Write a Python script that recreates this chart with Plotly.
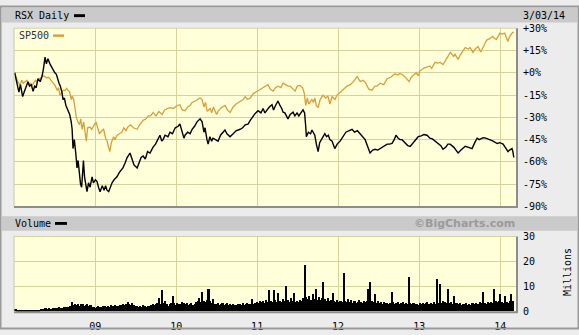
import plotly.graph_objects as go
import pandas as pd

# ---------------- data ----------------
rsx_dates = [
 "2008-01-04","2008-01-10","2008-01-17","2008-01-23","2008-01-30","2008-02-05","2008-02-09","2008-02-16","2008-02-25","2008-03-04",
 "2008-03-11","2008-03-19","2008-03-27","2008-04-03","2008-04-10","2008-04-18","2008-04-28","2008-05-06","2008-05-12","2008-05-16",
 "2008-05-20","2008-05-26","2008-06-02","2008-06-11","2008-06-18","2008-06-25","2008-07-03","2008-07-10","2008-07-15","2008-07-22",
 "2008-07-28","2008-08-04","2008-08-09","2008-08-15","2008-08-22","2008-08-31","2008-09-08","2008-09-15","2008-09-19","2008-09-23",
 "2008-09-29","2008-10-06","2008-10-11","2008-10-16","2008-10-22","2008-10-27","2008-11-01","2008-11-05","2008-11-09","2008-11-14",
 "2008-11-20","2008-11-25","2008-12-02","2008-12-09","2008-12-18","2008-12-24","2009-01-02","2009-01-09","2009-01-16","2009-01-23",
 "2009-02-02","2009-02-10","2009-02-17","2009-02-23","2009-03-03","2009-03-10","2009-03-18","2009-03-27","2009-04-09","2009-04-20",
 "2009-05-06","2009-05-15","2009-05-25","2009-06-07","2009-06-15","2009-06-25","2009-07-09","2009-07-18","2009-07-27","2009-08-05",
 "2009-08-15","2009-08-25","2009-09-05","2009-09-19","2009-09-30","2009-10-10","2009-10-20","2009-10-28","2009-11-03","2009-11-12",
 "2009-11-25","2009-12-04","2009-12-15","2009-12-28","2010-01-10","2010-01-18","2010-01-28","2010-02-05","2010-02-10","2010-02-22",
 "2010-03-05","2010-03-14","2010-03-25","2010-04-05","2010-04-19","2010-04-28","2010-05-06","2010-05-11","2010-05-20","2010-05-25",
 "2010-06-02","2010-06-10","2010-06-16","2010-06-28","2010-07-09","2010-07-20","2010-07-30","2010-08-09","2010-08-18","2010-09-01",
 "2010-09-15","2010-09-28","2010-10-16","2010-10-28","2010-11-08","2010-11-21","2010-12-01","2010-12-09","2010-12-20","2011-01-05",
 "2011-01-18","2011-01-28","2011-02-05","2011-02-15","2011-02-25","2011-03-09","2011-03-16","2011-03-25","2011-04-05","2011-04-14",
 "2011-04-22","2011-04-28","2011-05-06","2011-05-13","2011-05-20","2011-05-30","2011-06-12","2011-06-20","2011-06-30","2011-07-08",
 "2011-07-14","2011-07-22","2011-07-27","2011-08-03","2011-08-08","2011-08-11","2011-08-20","2011-08-30","2011-09-05","2011-09-12",
 "2011-09-18","2011-09-25","2011-10-03","2011-10-10","2011-10-20","2011-11-02","2011-11-10","2011-11-18","2011-11-25","2011-12-05",
 "2011-12-17","2011-12-28","2012-01-10","2012-01-23","2012-02-05","2012-02-20","2012-03-04","2012-03-15","2012-03-28","2012-04-09",
 "2012-04-20","2012-05-02","2012-05-14","2012-05-24","2012-06-05","2012-06-16","2012-06-28","2012-07-08","2012-07-22","2012-08-09",
 "2012-08-20","2012-08-31","2012-09-10","2012-09-18","2012-09-28","2012-10-06","2012-10-15","2012-10-28","2012-11-10","2012-11-21",
 "2012-12-05","2012-12-15","2012-12-27","2013-01-10","2013-01-22","2013-02-05","2013-02-18","2013-03-01","2013-03-13","2013-03-25",
 "2013-04-08","2013-04-18","2013-05-01","2013-05-10","2013-05-20","2013-06-05","2013-06-15","2013-06-25","2013-07-08","2013-07-27",
 "2013-08-08","2013-08-27","2013-09-08","2013-09-19","2013-09-28","2013-10-16","2013-10-28","2013-11-16","2013-11-30","2013-12-18",
 "2013-12-30","2014-01-14","2014-01-24","2014-02-05","2014-02-12","2014-02-23","2014-02-27","2014-03-03",
]
rsx_pct = [
 0,-4,-10,-13,-8,-12,-16,-13,-9,-6,
 -9,-8,-12.5,-9,-10,-4,-6,-2.5,2,7,
 10.5,6,9.5,6,4,2.5,0,-1,-4,-7,
 -9,-13,-18,-17,-22,-25,-28,-33,-38,-51,
 -45,-55,-64,-59,-68,-75,-77,-62,-59,-70,
 -76,-80,-74,-77,-70,-74,-72,-73,-77,-80,
 -76,-79,-76,-79,-80,-77,-74,-72,-70,-67,
 -64,-61,-57,-54,-57,-62,-64,-61,-57,-56,
 -58,-53,-54,-50,-48,-45,-42,-46,-45,-42,
 -43,-40,-41,-37,-36,-34.5,-40,-44,-42,-40,
 -41,-38,-36,-33,-31,-33,-40,-37,-45,-48,
 -43,-46,-44,-45,-46,-42,-40,-38.5,-41,-43,
 -41,-39,-38,-37,-35,-34.5,-32,-30,-28,-25.5,
 -27,-24,-27,-25,-23,-21.5,-25,-22,-19,-22,
 -24,-26.5,-27,-29,-31,-28,-26.5,-29,-27,-29,
 -28,-26,-25,-27,-36,-43,-40,-41,-38.5,-40,
 -42,-48,-53,-47,-44,-41,-43,-42,-45,-46,
 -51,-48,-46,-43,-40,-39,-38,-40,-39,-41,
 -43,-45,-50,-54,-52,-51.5,-52,-51,-49.5,-48,
 -48,-47.5,-45,-42,-44,-45,-45,-47,-49,-49.5,
 -47,-45,-43,-42.5,-41.5,-42,-44,-44.5,-46,-47,
 -49,-51.5,-50,-48,-48,-50,-52,-54,-52,-49.5,
 -50,-51,-47,-44,-45,-43.7,-44,-45,-46,-47.6,
 -47,-48,-50,-53,-52,-51,-53,-57,
]

spx_dates = [
 "2008-01-04","2008-01-10","2008-01-18","2008-01-28","2008-02-05","2008-02-12","2008-02-19","2008-02-28","2008-03-07","2008-03-13",
 "2008-03-20","2008-03-28","2008-04-07","2008-04-14","2008-04-24","2008-05-05","2008-05-12","2008-05-20","2008-05-28","2008-06-04",
 "2008-06-11","2008-06-20","2008-07-04","2008-07-14","2008-07-20","2008-07-26","2008-08-02","2008-08-09","2008-08-18","2008-08-25",
 "2008-08-31","2008-09-08","2008-09-15","2008-09-19","2008-09-26","2008-10-02","2008-10-08","2008-10-15","2008-10-22","2008-10-28",
 "2008-11-03","2008-11-10","2008-11-18","2008-11-22","2008-11-28","2008-12-08","2008-12-16","2008-12-24","2009-01-05","2009-01-12",
 "2009-01-20","2009-01-31","2009-02-08","2009-02-17","2009-02-24","2009-03-02","2009-03-08","2009-03-15","2009-03-25","2009-03-31",
 "2009-04-10","2009-04-20","2009-05-01","2009-05-10","2009-05-20","2009-05-28","2009-06-10","2009-06-22","2009-07-09","2009-07-20",
 "2009-08-05","2009-08-18","2009-08-28","2009-09-08","2009-09-19","2009-10-02","2009-10-15","2009-10-30","2009-11-10","2009-11-25",
 "2009-12-04","2009-12-20","2010-01-05","2010-01-18","2010-01-28","2010-02-10","2010-02-22","2010-03-05","2010-03-14","2010-03-28",
 "2010-04-10","2010-04-19","2010-04-28","2010-05-06","2010-05-13","2010-05-21","2010-06-03","2010-06-10","2010-06-18","2010-06-25",
 "2010-07-02","2010-07-09","2010-07-20","2010-08-09","2010-08-20","2010-09-01","2010-09-15","2010-09-28","2010-10-16","2010-10-30",
 "2010-11-08","2010-11-18","2010-12-01","2010-12-15","2011-01-01","2011-01-18","2011-02-05","2011-02-19","2011-03-01","2011-03-14",
 "2011-03-25","2011-04-05","2011-04-18","2011-04-28","2011-05-10","2011-05-20","2011-05-30","2011-06-10","2011-06-21","2011-07-01",
 "2011-07-14","2011-07-25","2011-08-02","2011-08-08","2011-08-15","2011-08-22","2011-09-05","2011-09-12","2011-09-18","2011-09-25",
 "2011-10-03","2011-10-12","2011-10-25","2011-11-05","2011-11-16","2011-11-25","2011-12-05","2011-12-18","2011-12-27","2012-01-12",
 "2012-01-25","2012-02-10","2012-02-25","2012-03-10","2012-03-27","2012-04-10","2012-04-23","2012-05-05","2012-05-18","2012-06-02",
 "2012-06-15","2012-06-25","2012-07-08","2012-07-25","2012-08-09","2012-08-25","2012-09-13","2012-09-25","2012-10-05","2012-10-15",
 "2012-10-28","2012-11-08","2012-11-16","2012-11-26","2012-12-04","2012-12-18","2012-12-28","2013-01-04","2013-01-20","2013-02-05",
 "2013-02-18","2013-02-26","2013-03-13","2013-03-25","2013-04-05","2013-04-18","2013-04-28","2013-05-11","2013-05-21","2013-06-05",
 "2013-06-11","2013-06-25","2013-07-05","2013-07-27","2013-08-10","2013-08-18","2013-08-31","2013-09-10","2013-09-23","2013-10-05",
 "2013-10-10","2013-10-20","2013-11-01","2013-11-15","2013-11-28","2013-12-07","2013-12-15","2013-12-30","2014-01-10","2014-01-21",
 "2014-01-28","2014-02-04","2014-02-11","2014-02-18","2014-02-25","2014-03-03",
]
spx_pct = [
 0,-3,-6,-8.5,-5,-7,-6,-5,-8,-7,
 -9,-7,-5,-6,-4,-3,-2,-2.6,-3.5,-3,
 -4,-6,-8.5,-12,-10,-15,-13,-11.7,-12,-10.5,
 -11.7,-13,-18,-15.7,-18,-25,-30,-33,-35,-31,
 -38,-33,-40,-46,-37,-36.5,-38,-36,-33,-37,
 -41,-39,-38,-44,-46,-50,-53,-47,-43,-45,
 -42,-41,-40,-37,-39,-36.5,-35,-37,-38,-35,
 -32,-31,-29,-29,-26.7,-29,-26,-28,-25,-24,
 -23.5,-24,-22,-21.5,-25,-25.5,-23,-22,-20,-19,
 -17.5,-17,-18,-23,-20,-26,-24,-27,-23,-25,
 -28,-26,-24,-22,-25,-26.7,-23,-21,-19,-18,
 -16,-18,-17,-14,-12.4,-11,-9,-8,-11,-12.4,
 -10,-9,-10,-7,-8,-9,-9,-11,-12.4,-9,
 -8.5,-10,-14,-22,-17,-21,-18,-20,-17,-22,
 -23.5,-18,-15,-17,-15.7,-21,-16,-18,-15,-13,
 -11,-9,-8,-6,-2.6,-6,-5,-7,-11,-11.7,
 -9,-9,-7,-8,-4,-3,-0.6,-1.5,-0.6,-1,
 -2.6,-5,-6,-3,-2,0,-2,1.3,3,4,
 4.6,3,7,6.5,7,5.5,8,12,13.7,11,
 12.4,9,12,17,16,17,13.7,16,17.6,14,
 15.6,19,22,23,24.5,23,22.5,26.7,26,26.7,
 24,21,24,26,27,27.4,
]

# weekly volume, millions of shares (Fridays from 2008-01-04)
vol_millions = [
 1.0,0.8,0.5,0.3,0.2,0.3,0.2,0.4,0.2,0.3,0.2,0.3,0.2,0.3,0.2,0.3,0.4,0.8,1.0,0.9,
 1.1,0.9,1.2,1.0,0.8,1.2,1.4,1.3,1.1,1.5,1.4,1.2,1.6,1.5,1.8,1.7,2.2,3.7,2.4,2.9,
 2.6,3.0,2.2,2.7,2.9,2.1,2.4,2.8,1.9,2.3,1.6,1.8,1.4,1.7,2.0,1.8,1.5,1.9,2.1,1.7,
 2.0,1.8,2.3,2.1,1.9,2.5,2.2,2.0,2.6,2.4,2.8,2.3,2.7,3.7,2.9,2.4,3.1,2.6,2.2,1.9,
 1.8,2.2,1.6,2.4,2.0,1.7,2.1,1.9,2.6,3.0,2.3,2.9,3.4,5.3,2.8,8.3,3.1,4.2,2.7,2.2,
 2.9,3.3,6.0,3.1,2.6,3.4,3.0,2.8,3.6,3.2,2.7,3.1,2.5,2.9,3.3,2.6,3.0,3.8,4.1,5.3,
 3.6,7.6,4.0,3.5,4.4,8.7,3.9,3.3,4.7,3.0,2.8,3.4,2.6,2.9,3.2,2.5,2.7,3.1,2.4,2.8,
 2.6,3.0,2.5,2.3,2.9,2.7,2.4,3.1,2.6,2.8,3.3,2.7,3.0,4.7,2.9,3.2,3.6,3.4,4.0,3.5,
 3.9,3.3,4.6,3.7,8.3,4.2,3.6,8.3,4.4,3.8,7.3,4.1,3.5,4.8,3.9,10.0,4.3,3.7,5.1,4.0,
 7.3,3.8,4.2,3.5,4.5,3.9,5.2,18.4,5.6,4.7,5.9,4.4,6.8,5.0,8.7,4.6,5.8,4.3,5.1,11.6,
 4.8,4.1,5.4,3.9,4.6,7.3,4.0,3.6,4.4,3.8,4.2,3.5,15.2,4.1,3.7,4.9,3.6,4.3,3.4,4.0,
 3.3,3.8,4.5,3.6,3.2,4.1,3.5,3.9,8.7,11.6,4.2,3.7,6.7,3.4,3.9,3.2,3.6,3.0,3.5,3.1,
 3.4,2.9,3.3,7.7,3.6,3.0,3.2,3.7,2.8,3.1,3.5,2.9,3.2,3.0,13.6,3.4,2.8,3.1,2.7,3.0,
 2.6,3.2,2.9,3.4,2.7,3.1,3.6,2.8,3.3,2.9,3.5,3.0,12.7,3.4,11.0,3.2,4.0,3.6,3.1,8.7,
 3.3,3.7,2.9,6.0,3.4,3.1,2.8,3.3,2.6,3.0,2.7,3.2,2.5,2.9,2.6,3.1,2.8,3.4,2.7,3.0,
 3.5,3.1,7.6,3.3,2.9,3.6,3.2,3.8,3.4,8.7,3.9,3.5,4.1,6.7,3.6,3.2,6.0,3.7,3.3,4.0,
 7.0,4.2,
]
vol_dates = pd.date_range("2008-01-04", periods=len(vol_millions), freq="7D")

pct_ticks = [30, 15, 0, -15, -30, -45, -60, -75, -90]
pct_labels = ["+30%", "+15%", "+0%", "-15%", "-30%", "-45%", "-60%", "-75%", "-90%"]
vol_ticks = [0, 10, 20, 30]
vol_labels = ["0", "10", "20", "30"]
year_ticks = ["2009-01-01", "2010-01-01", "2011-01-01", "2012-01-01", "2013-01-01", "2014-01-01"]
year_labels = ["09", "10", "11", "12", "13", "14"]
x_range = ["2008-01-01", "2014-03-13"]

# ---------------- layout helpers ----------------
W, H = 579, 335
def fx(px):
    return px / W
def fy(py):
    return 1 - py / H

MONO = "DejaVu Sans Mono"
GRID = "#d3d39a"
PLOT_BG = "#ffffd9"
PAGE_BG = "#ececec"
BAND = "#cacaca"
SHADOW = "#8c8c8c"
GOLD = "#d6a03c"

fig = go.Figure()
fig.add_trace(go.Scatter(x=spx_dates, y=spx_pct, mode="lines",
                         line=dict(color=GOLD, width=1.3), xaxis="x", yaxis="y",
                         hoverinfo="skip"))
fig.add_trace(go.Scatter(x=rsx_dates, y=rsx_pct, mode="lines",
                         line=dict(color="#000000", width=1.4), xaxis="x", yaxis="y",
                         hoverinfo="skip"))
fig.add_trace(go.Bar(x=vol_dates, y=vol_millions, width=7 * 86400000,
                     marker=dict(color="#000000", line=dict(width=0)),
                     xaxis="x2", yaxis="y2", hoverinfo="skip"))

xdom = [fx(14), fx(516)]
axis_common = dict(showgrid=True, gridcolor=GRID, gridwidth=1, zeroline=False, showline=False)

fig.update_layout(
    width=W, height=H, autosize=False,
    margin=dict(l=0, r=0, t=0, b=0),
    paper_bgcolor=PAGE_BG, plot_bgcolor=PLOT_BG,
    showlegend=False, bargap=0,
    xaxis=dict(domain=xdom, range=x_range, type="date", tickvals=year_ticks,
               showticklabels=False, anchor="y", **axis_common),
    yaxis=dict(domain=[fy(208), fy(23)], range=[-90, 30], side="right", anchor="x",
               tickvals=pct_ticks, ticktext=pct_labels, ticks="outside", ticklen=4,
               tickcolor="rgba(0,0,0,0)", tickfont=dict(family=MONO, size=10, color="#000"),
               **axis_common),
    xaxis2=dict(domain=xdom, range=x_range, type="date", tickvals=year_ticks,
                ticktext=year_labels, anchor="y2", ticks="outside", ticklen=5,
                tickcolor="rgba(0,0,0,0)", tickfont=dict(family=MONO, size=10, color="#000"),
                **axis_common),
    yaxis2=dict(domain=[fy(317), fy(239)], range=[0, 30], side="right", anchor="x2",
                tickvals=vol_ticks, ticktext=vol_labels, ticks="outside", ticklen=4,
                tickcolor="rgba(0,0,0,0)", tickfont=dict(family=MONO, size=10, color="#000"),
                **axis_common),
)

shapes = []
def rect(x0, y0, x1, y1, color, layer="below"):
    shapes.append(dict(type="rect", xref="paper", yref="paper",
                       x0=fx(x0), x1=fx(x1), y0=fy(y0), y1=fy(y1),
                       fillcolor=color, line=dict(width=0), layer=layer))
def line(x0, y0, x1, y1, color, w=1, layer="above"):
    shapes.append(dict(type="line", xref="paper", yref="paper",
                       x0=fx(x0), x1=fx(x1), y0=fy(y0), y1=fy(y1),
                       line=dict(color=color, width=w), layer=layer))

# header bands
rect(2, 2, 577, 17, BAND)
rect(2, 218, 577, 233, BAND)
# legend dashes
rect(74, 8.5, 85, 11.5, "#000000", layer="above")
rect(55, 224, 67, 227, "#000000", layer="above")
rect(53, 29.5, 64, 32, GOLD, layer="above")
# plot frames: light top/left, dark shadow bottom/right
for top, bot in [(23, 208), (239, 317)]:
    line(14, top, 516, top, GRID)
    line(14, top, 14, bot, "#c8c8b0")
    line(14, bot + 0.5, 517.5, bot + 0.5, SHADOW, 2)
    line(517, top, 517, bot + 1.5, SHADOW, 2)
# outer border
shapes.append(dict(type="rect", xref="paper", yref="paper", x0=fx(0.5), x1=fx(578.5),
                   y0=fy(0.5), y1=fy(334.5), line=dict(color="#9a9a9a", width=2),
                   fillcolor="rgba(0,0,0,0)", layer="above"))
fig.update_layout(shapes=shapes)

def text(x, y, s, anchor="left", size=10, color="#000", family=MONO, angle=0):
    fig.add_annotation(xref="paper", yref="paper", x=fx(x), y=fy(y), text=s,
                       showarrow=False, xanchor=anchor, yanchor="middle",
                       textangle=angle, borderpad=0,
                       font=dict(family=family, size=size, color=color))

text(14, 9.5, "RSX Daily")
text(566, 9.5, "3/03/14", anchor="right")
text(18, 30.5, "SP500", color="#333")
text(14, 225.5, "Volume")
text(516, 225.5, "<b>©BigCharts.com</b>", anchor="right", size=11,
     color="#9a9a9a", family="DejaVu Sans")
text(567, 276, "Millions", anchor="center", angle=-90)

fig.write_html("out.html", config={"displayModeBar": False},
               post_script="document.body.style.margin='0';document.body.style.padding='0';")
